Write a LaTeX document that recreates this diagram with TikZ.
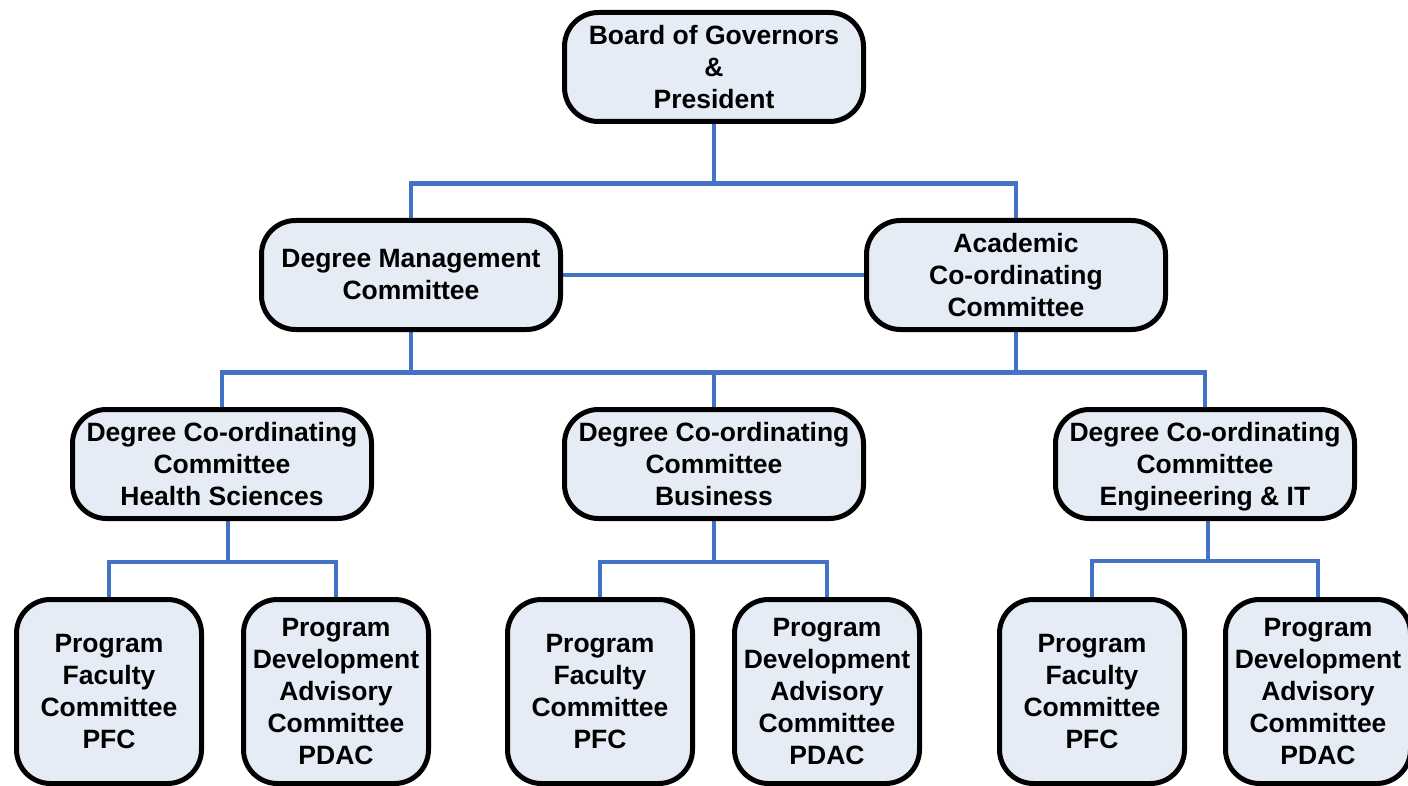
\documentclass[tikz,border=0pt]{standalone}
\usepackage{fontspec}
\setmainfont{Liberation Sans}
\usepackage{tikz}
\usetikzlibrary{backgrounds}

\definecolor{boxfill}{RGB}{230,236,246}
\definecolor{linkblue}{RGB}{68,114,196}

\begin{document}
\begin{tikzpicture}[x=1pt,y=-1pt,
  unit/.style={draw=black, line width=5pt, fill=boxfill, rounded corners=34pt,
    align=center, inner sep=0pt, font=\fontsize{26.5}{32}\selectfont\bfseries},
  wide/.style={unit, minimum width=299pt, minimum height=109pt},
  tall/.style={unit, minimum width=185pt, minimum height=184pt},
  link/.style={draw=linkblue, line width=4.5pt}]

% Page size
\useasboundingbox (0,0) rectangle (1408,786);
\clip (0,0) rectangle (1408,786);

% Top level
\node[wide] (board) at (714,67) {Board of Governors\\\&\\President};

% Second level
\node[wide] (dmc) at (411,275) {Degree Management\\Committee};
\node[wide] (acc) at (1016,275) {Academic\\Co-ordinating\\Committee};

% Degree co-ordinating committees
\node[wide] (dcchs) at (222,464) {Degree Co-ordinating\\Committee\\Health Sciences};
\node[wide] (dccbus) at (714,464) {Degree Co-ordinating\\Committee\\Business};
\node[wide] (dcceng) at (1205,464) {Degree Co-ordinating\\Committee\\\raisebox{0pt}[\height][0pt]{Engineering \& IT}};

% Program committees
\node[tall] (pfchs) at (109,691.5) {Program\\Faculty\\Committee\\PFC};
\node[tall] (pdachs) at (336,691.5) {Program\\Development\\Advisory\\Committee\\PDAC};
\node[tall] (pfcbus) at (600,691.5) {Program\\Faculty\\Committee\\PFC};
\node[tall] (pdacbus) at (827,691.5) {Program\\Development\\Advisory\\Committee\\PDAC};
\node[tall] (pfceng) at (1092,691.5) {Program\\Faculty\\Committee\\PFC};
\node[tall] (pdaceng) at (1318,691.5) {Program\\Development\\Advisory\\Committee\\PDAC};

% Connectors
\begin{scope}[on background layer]
\draw[link] (board.south) -- ++(0,59.5) coordinate (topbus);
\draw[link] (dmc.north) |- (topbus) -| (acc.north);
\draw[link] (dmc) -- (acc);

\draw[link] (dmc.south) -- ++(0,40.5) coordinate (midl) -| (dcchs.north);
\draw[link] (acc.south) -- ++(0,40.5) coordinate (midr) -| (dcceng.north);
\draw[link] (midl) -- (midr);
\draw[link] (dccbus.north) -- (dccbus.north |- midl);

\draw[link] ([xshift=6pt]dcchs.south) -- ++(0,41) coordinate (lowhs);
\draw[link] (pfchs.north) |- (lowhs) -| (pdachs.north);
\draw[link] (dccbus.south) -- ++(0,41) coordinate (lowbus);
\draw[link] (pfcbus.north) |- (lowbus) -| (pdacbus.north);
\draw[link] ([xshift=3pt]dcceng.south) -- ++(0,40) coordinate (loweng);
\draw[link] (pfceng.north) |- (loweng) -| (pdaceng.north);
\end{scope}

\end{tikzpicture}
\end{document}
